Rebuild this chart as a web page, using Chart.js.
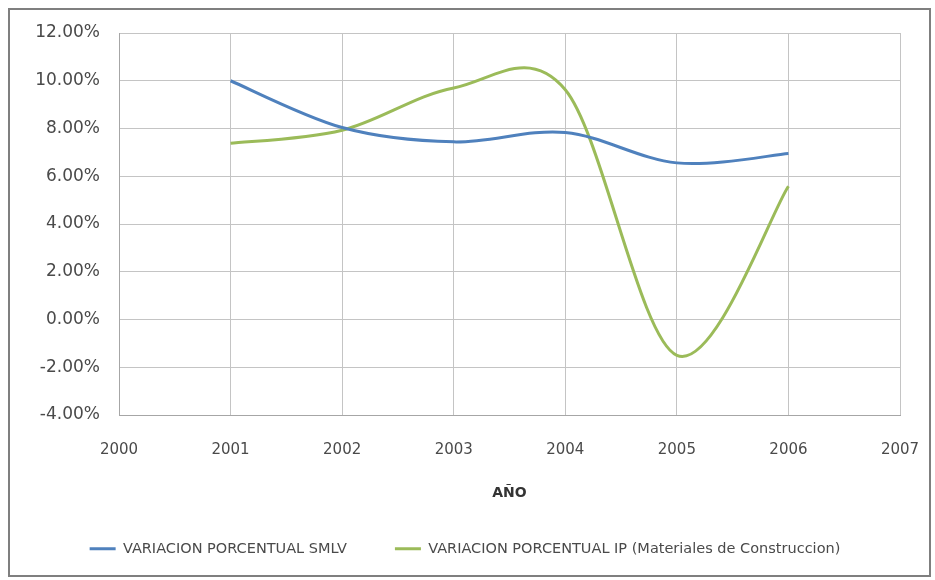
<!DOCTYPE html>
<html>
<head>
<meta charset="utf-8">
<title>Variación porcentual SMLV e IP</title>
<script src="https://cdn.jsdelivr.net/npm/chart.js@4/dist/chart.umd.min.js"></script>
<style>
  html, body { margin: 0; padding: 0; background: #ffffff; }
  #wrap { position: relative; width: 935px; height: 580px; }
</style>
</head>
<body>
<div id="wrap"><canvas id="chart" width="935" height="580"></canvas></div>
<script>
// Years on the horizontal axis
const years = [2001, 2002, 2003, 2004, 2005, 2006];
// Annual percentage change of the legal minimum wage (SMLV)
const smlv = [10.00, 8.04, 7.44, 7.83, 6.56, 6.95];
// Annual percentage change of the producer index for construction materials
const ipMateriales = [7.38, 7.93, 9.70, 9.62, -1.50, 5.58];

const seriesNames = [
  'VARIACION PORCENTUAL SMLV',
  'VARIACION PORCENTUAL IP (Materiales de Construccion)'
];
const axisTitleX = 'AÑO';
const yMin = -4, yMax = 12, yStep = 2;
const xMin = 2000, xMax = 2007;

const toPoints = (vals) => vals.map((v, i) => ({ x: years[i], y: v }));

const PAD_LEFT = 30;
const PAD_RIGHT = 35;
const PAD_BOTTOM = 14;
const AREA_LEFT = 119;
const AREA_BOTTOM = 415;
const LEGEND_GAP = 48;

// White background and outer frame around the whole chart
const framePlugin = {
  id: 'frame',
  beforeDraw(chart) {
    const ctx = chart.ctx;
    ctx.save();
    ctx.fillStyle = '#ffffff';
    ctx.fillRect(0, 0, chart.width, chart.height);
    ctx.restore();
  },
  afterDraw(chart) {
    const ctx = chart.ctx;
    ctx.save();
    ctx.strokeStyle = '#7f7f7f';
    ctx.lineWidth = 2;
    ctx.strokeRect(9, 9, 921, 567);
    ctx.restore();
  }
};

// Spreadsheet-style smoothing: uniform Catmull-Rom control points
// (one sixth of the neighbour-to-neighbour span) on the scaled points.
function applyCatmullRom(chart, meta) {
  const line = meta.dataset;
  if (!line) return;
  if (typeof line.updateControlPoints === 'function') {
    line.updateControlPoints(chart.chartArea, meta.iScale ? meta.iScale.axis : 'x');
  }
  const pts = line.points;
  for (let k = 0; k < pts.length; k++) {
    const p = pts[k];
    const prev = pts[k - 1] || p;
    const next = pts[k + 1] || p;
    const dx = (next.x - prev.x) / 6;
    const dy = (next.y - prev.y) / 6;
    p.cp1x = p.x - dx;
    p.cp1y = p.y - dy;
    p.cp2x = p.x + dx;
    p.cp2y = p.y + dy;
  }
  line._pointsUpdated = true;
  delete line._path;
}

const smoothPlugin = {
  id: 'catmullRom',
  beforeDatasetDraw(chart, args) {
    applyCatmullRom(chart, args.meta);
  }
};

const gridStyle = {
  color: '#c4c4c4',
  lineWidth: 1,
  drawTicks: true,
  tickColor: 'rgba(0,0,0,0)'
};

new Chart(document.getElementById('chart'), {
  type: 'line',
  data: {
    datasets: [
      {
        label: seriesNames[0],
        data: toPoints(smlv),
        borderColor: '#4F81BD',
        backgroundColor: '#4F81BD',
        borderWidth: 3,
        pointRadius: 0,
        pointHoverRadius: 0,
        tension: 0.4,
        fill: false
      },
      {
        label: seriesNames[1],
        data: toPoints(ipMateriales),
        borderColor: '#9BBB59',
        backgroundColor: '#9BBB59',
        borderWidth: 3,
        pointRadius: 0,
        pointHoverRadius: 0,
        tension: 0.4,
        fill: false
      }
    ]
  },
  options: {
    responsive: false,
    animation: false,
    devicePixelRatio: 1,
    layout: { padding: { top: 33, right: PAD_RIGHT, bottom: PAD_BOTTOM, left: PAD_LEFT } },
    scales: {
      x: {
        type: 'linear',
        min: xMin,
        max: xMax,
        afterFit(scale) {
          const legendH = scale.chart.legend ? scale.chart.legend.height : 0;
          scale.height = 580 - PAD_BOTTOM - legendH - AREA_BOTTOM;
        },
        ticks: {
          stepSize: 1,
          padding: 3,
          color: '#4a4a4a',
          font: { family: 'DejaVu Sans', size: 15 },
          callback: (v) => String(v)
        },
        grid: Object.assign({ tickLength: 23 }, gridStyle),
        border: { color: '#a6a6a6', width: 1 },
        title: {
          display: true,
          text: axisTitleX,
          color: '#333333',
          font: { family: 'DejaVu Sans', size: 14, weight: 'bold' },
          padding: { top: 0, bottom: 40 - LEGEND_GAP }
        }
      },
      y: {
        min: yMin,
        max: yMax,
        afterFit(scale) { scale.width = AREA_LEFT - PAD_LEFT; },
        ticks: {
          stepSize: yStep,
          padding: 3,
          color: '#4a4a4a',
          font: { family: 'DejaVu Sans', size: 17 },
          callback: (v) => Number(v).toFixed(2) + '%'
        },
        grid: Object.assign({ tickLength: 16 }, gridStyle),
        border: { color: '#a6a6a6', width: 1 }
      }
    },
    plugins: {
      legend: {
        position: 'bottom',
        labels: {
          usePointStyle: true,
          pointStyle: 'line',
          pointStyleWidth: 26,
          boxHeight: 10,
          padding: LEGEND_GAP,
          color: '#4a4a4a',
          font: { family: 'DejaVu Sans', size: 14.5 }
        }
      },
      tooltip: { enabled: false },
      title: { display: false }
    }
  },
  plugins: [framePlugin, smoothPlugin]
});
</script>
</body>
</html>
